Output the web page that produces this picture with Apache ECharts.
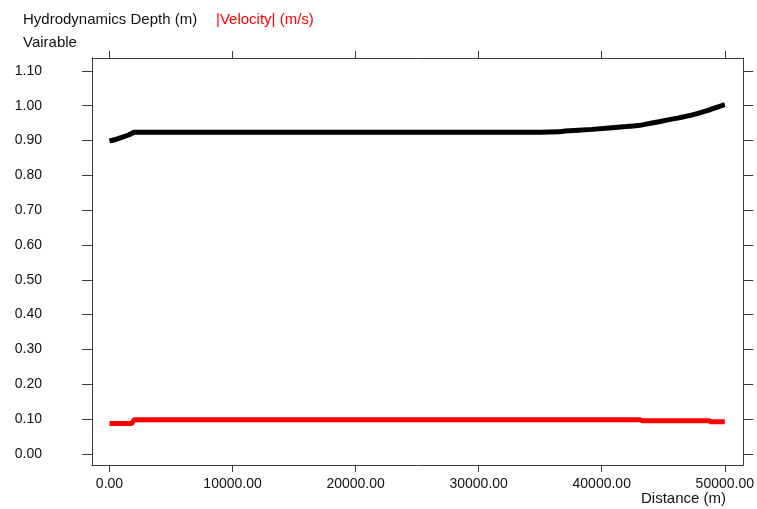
<!DOCTYPE html>
<html>
<head>
<meta charset="utf-8">
<script src="https://cdn.jsdelivr.net/npm/echarts@6/dist/echarts.min.js"></script>
<style>
  html, body { margin: 0; padding: 0; background: #fff; }
  #chart { width: 757px; height: 509px; }
</style>
</head>
<body>
<div id="chart"></div>
<script>
// distance along the channel (m)
const distance = [0, 500, 1000, 1500, 1800, 2000, 5000, 10000, 15000, 20000, 25000, 30000, 35000,
  36500, 37000, 39200, 42000, 43100, 43300, 44650, 47300, 48700, 48900, 49900, 50000]
// hydrodynamics depth (m)
const depth = [0.899, 0.903, 0.909, 0.915, 0.920, 0.924, 0.924, 0.924, 0.924, 0.924, 0.924, 0.924, 0.924,
  0.925, 0.927, 0.932, 0.940, 0.944, 0.945, 0.954, 0.973, 0.987, 0.990, 1.002, 1.003]
// |velocity| (m/s)
const velocity = [0.087, 0.087, 0.087, 0.087, 0.087, 0.098, 0.098, 0.098, 0.098, 0.098, 0.098, 0.098, 0.098,
  0.098, 0.098, 0.098, 0.098, 0.098, 0.095, 0.095, 0.095, 0.095, 0.092, 0.092, 0.092]

const xTicks = [0, 10000, 20000, 30000, 40000, 50000]
const yTicks = [0, 0.1, 0.2, 0.3, 0.4, 0.5, 0.6, 0.7, 0.8, 0.9, 1.0, 1.1]

const font = 'Liberation Sans, Arial, sans-serif'
const axisColor = '#3a3a3a'

const chart = echarts.init(document.getElementById('chart'))

const xRange = { min: -1420, max: 51500 }
const yRange = { min: -0.032, max: 1.137 }

chart.setOption({
  animation: false,
  grid: { left: 92, top: 58, right: 12, bottom: 44 },
  graphic: [
    { type: 'text', left: 23, top: 12, style: { text: 'Hydrodynamics Depth (m)', fill: '#111', font: '15px ' + font } },
    { type: 'text', left: 216, top: 12, style: { text: '|Velocity| (m/s)', fill: '#ff0000', font: '15px ' + font } },
    { type: 'text', left: 23, top: 35, style: { text: 'Vairable', fill: '#111', font: '15px ' + font } },
    { type: 'text', right: 31, top: 491, style: { text: 'Distance (m)', fill: '#111', font: '15px ' + font } }
  ],
  xAxis: [
    {
      type: 'value', position: 'bottom', ...xRange,
      axisLine: { show: true, onZero: false, lineStyle: { color: axisColor, width: 1 } },
      axisTick: { show: true, length: 7, customValues: xTicks, lineStyle: { color: axisColor } },
      axisLabel: {
        customValues: xTicks, margin: 12, color: '#111', fontSize: 14, fontFamily: font,
        formatter: v => v.toFixed(2)
      },
      splitLine: { show: false }
    },
    {
      type: 'value', position: 'top', ...xRange,
      axisLine: { show: true, onZero: false, lineStyle: { color: axisColor, width: 1 } },
      axisTick: { show: true, length: 7, customValues: xTicks, lineStyle: { color: axisColor } },
      axisLabel: { show: false },
      splitLine: { show: false }
    }
  ],
  yAxis: [
    {
      type: 'value', position: 'left', ...yRange,
      axisLine: { show: true, onZero: false, lineStyle: { color: axisColor, width: 1 } },
      axisTick: { show: true, length: 10, customValues: yTicks, lineStyle: { color: axisColor } },
      axisLabel: {
        customValues: yTicks, margin: 50, align: 'right', color: '#111', fontSize: 14, fontFamily: font,
        formatter: v => v.toFixed(2)
      },
      splitLine: { show: false }
    },
    {
      type: 'value', position: 'right', ...yRange,
      axisLine: { show: true, onZero: false, lineStyle: { color: axisColor, width: 1 } },
      axisTick: { show: true, length: 10, customValues: yTicks, lineStyle: { color: axisColor } },
      axisLabel: { show: false },
      splitLine: { show: false }
    }
  ],
  series: [
    {
      name: 'Hydrodynamics Depth (m)', type: 'line', xAxisIndex: 0, yAxisIndex: 0,
      data: distance.map((d, i) => [d, depth[i]]),
      showSymbol: false, smooth: 0.2, lineStyle: { color: '#000', width: 5 }
    },
    {
      name: '|Velocity| (m/s)', type: 'line', xAxisIndex: 0, yAxisIndex: 0,
      data: distance.map((d, i) => [d, velocity[i]]),
      showSymbol: false, lineStyle: { color: '#ff0000', width: 5 }
    }
  ]
})
</script>
</body>
</html>
